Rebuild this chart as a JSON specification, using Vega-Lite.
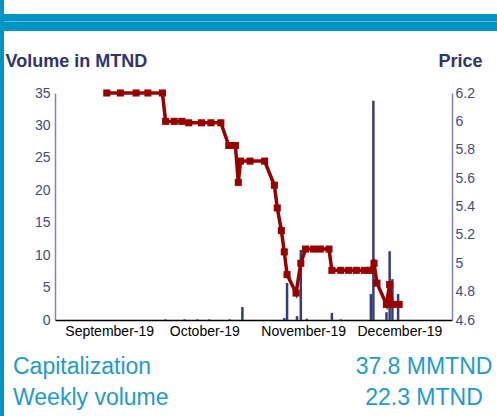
{
  "$schema": "https://vega.github.io/schema/vega-lite/v6.json",
  "padding": 0,
  "spacing": 0,
  "bounds": "flush",
  "config": {"view": {"stroke": null}, "font": "Liberation Sans"},
  "datasets": {
    "volume": [
      {"date": "2019-10-03T05:00", "volume": 0.1},
      {"date": "2019-10-09T07:00", "volume": 0.1},
      {"date": "2019-10-13T07:00", "volume": 0.1},
      {"date": "2019-10-17T00:00", "volume": 0.1},
      {"date": "2019-10-23T12:00", "volume": 0.1},
      {"date": "2019-10-27T12:00", "volume": 2.0},
      {"date": "2019-11-09T17:00", "volume": 0.3},
      {"date": "2019-11-10T14:00", "volume": 5.7},
      {"date": "2019-11-13T17:00", "volume": 0.6},
      {"date": "2019-11-14T22:00", "volume": 10.8},
      {"date": "2019-11-16T19:00", "volume": 0.2},
      {"date": "2019-11-24T17:00", "volume": 1.1},
      {"date": "2019-11-27T12:00", "volume": 0.1},
      {"date": "2019-12-07T00:00", "volume": 4.0},
      {"date": "2019-12-07T19:00", "volume": 33.8},
      {"date": "2019-12-11T22:00", "volume": 1.2},
      {"date": "2019-12-12T22:00", "volume": 10.6},
      {"date": "2019-12-13T19:00", "volume": 6.3},
      {"date": "2019-12-15T14:00", "volume": 4.0}
    ],
    "price": [
      {"date": "2019-09-14T18:00", "price": 6.2},
      {"date": "2019-09-19T01:00", "price": 6.2},
      {"date": "2019-09-24T00:00", "price": 6.2},
      {"date": "2019-09-27T17:00", "price": 6.2},
      {"date": "2019-10-02T07:00", "price": 6.2},
      {"date": "2019-10-03T07:00", "price": 6.0},
      {"date": "2019-10-06T00:00", "price": 6.0},
      {"date": "2019-10-08T10:00", "price": 6.0},
      {"date": "2019-10-10T14:00", "price": 5.99},
      {"date": "2019-10-14T14:00", "price": 5.99},
      {"date": "2019-10-17T14:00", "price": 5.99},
      {"date": "2019-10-20T17:00", "price": 5.99},
      {"date": "2019-10-23T05:00", "price": 5.83},
      {"date": "2019-10-25T07:00", "price": 5.83},
      {"date": "2019-10-26T05:00", "price": 5.57},
      {"date": "2019-10-26T22:00", "price": 5.72},
      {"date": "2019-10-29T22:00", "price": 5.72},
      {"date": "2019-11-03T12:00", "price": 5.72},
      {"date": "2019-11-06T14:00", "price": 5.55},
      {"date": "2019-11-07T12:00", "price": 5.39},
      {"date": "2019-11-08T19:00", "price": 5.23},
      {"date": "2019-11-09T17:00", "price": 5.08},
      {"date": "2019-11-10T14:00", "price": 4.92},
      {"date": "2019-11-13T10:00", "price": 4.79},
      {"date": "2019-11-14T22:00", "price": 5.0},
      {"date": "2019-11-16T10:00", "price": 5.1},
      {"date": "2019-11-18T22:00", "price": 5.1},
      {"date": "2019-11-21T02:00", "price": 5.1},
      {"date": "2019-11-23T19:00", "price": 5.1},
      {"date": "2019-11-24T17:00", "price": 4.95},
      {"date": "2019-11-27T12:00", "price": 4.95},
      {"date": "2019-11-30T00:00", "price": 4.95},
      {"date": "2019-12-02T10:00", "price": 4.95},
      {"date": "2019-12-04T22:00", "price": 4.95},
      {"date": "2019-12-06T17:00", "price": 4.95},
      {"date": "2019-12-08T00:00", "price": 5.0},
      {"date": "2019-12-08T22:00", "price": 4.86},
      {"date": "2019-12-11T22:00", "price": 4.71},
      {"date": "2019-12-12T22:00", "price": 4.85},
      {"date": "2019-12-13T19:00", "price": 4.71},
      {"date": "2019-12-15T22:00", "price": 4.71}
    ],
    "info": [
      {"row": "Capitalization", "side": "label", "text": "Capitalization"},
      {"row": "Capitalization", "side": "value", "text": "37.8 MMTND"},
      {"row": "Weekly volume", "side": "label", "text": "Weekly volume"},
      {"row": "Weekly volume", "side": "value", "text": "22.3 MTND"}
    ]
  },
  "hconcat": [
    {
      "width": 4, "height": 416,
      "data": {"values": [{}]},
      "mark": {"type": "rect", "color": "#0095C6"}
    },
    {
      "spacing": 0,
      "bounds": "flush",
      "vconcat": [
        {"width": 493, "height": 14, "data": {"values": [{}]}, "mark": {"type": "rect", "opacity": 0}},
        {"width": 493, "height": 7, "data": {"values": [{}]}, "mark": {"type": "rect", "color": "#0094C4"}},
        {"width": 493, "height": 1, "data": {"values": [{}]}, "mark": {"type": "rect", "color": "#62B9DD"}},
        {"width": 493, "height": 9, "data": {"values": [{}]}, "mark": {"type": "rect", "color": "#0094C4"}},
        {"width": 493, "height": 62, "data": {"values": [{}]}, "mark": {"type": "rect", "opacity": 0}},
        {
          "spacing": 0,
          "bounds": "flush",
          "hconcat": [
            {"width": 51, "height": 227, "data": {"values": [{}]}, "mark": {"type": "rect", "opacity": 0}},
            {
              "width": 397,
              "height": 227,
              "layer": [
                {
                  "data": {"name": "volume"},
                  "mark": {"type": "bar", "color": "#333D7A", "size": 2.5},
                  "encoding": {
                    "x": {
                      "field": "date", "type": "temporal",
                      "scale": {"domain": [{"year": 2019, "month": "aug", "date": 31}, {"year": 2019, "month": "dec", "date": 31}]},
                      "axis": {
                        "values": [
                          {"year": 2019, "month": "sep", "date": 15, "hours": 12},
                          {"year": 2019, "month": "oct", "date": 15, "hours": 12},
                          {"year": 2019, "month": "nov", "date": 15, "hours": 16},
                          {"year": 2019, "month": "dec", "date": 16}
                        ],
                        "format": "%B-%y",
                        "title": null,
                        "ticks": false,
                        "grid": false,
                        "domainColor": "#000000",
                        "domainWidth": 1.5,
                        "labelColor": "#000000",
                        "labelFontSize": 14,
                        "labelPadding": 4,
                        "labelOverlap": false
                      }
                    },
                    "y": {
                      "field": "volume", "type": "quantitative",
                      "scale": {"domain": [0, 35]},
                      "axis": {
                        "orient": "left",
                        "values": [0, 5, 10, 15, 20, 25, 30, 35],
                        "ticks": false,
                        "grid": false,
                        "domainColor": "#7E84B4",
                        "domainWidth": 1.5,
                        "labelColor": "#3F4A8A",
                        "labelFontSize": 14,
                        "labelPadding": 5,
                        "labelOverlap": false,
                        "title": "Volume in MTND",
                        "titleAngle": 0,
                        "titleAlign": "left",
                        "titleBaseline": "alphabetic",
                        "titleX": -50,
                        "titleY": -27,
                        "titleFontSize": 18,
                        "titleFontWeight": "bold",
                        "titleColor": "#2E3572"
                      }
                    }
                  }
                },
                {
                  "data": {"name": "price"},
                  "mark": {
                    "type": "line", "color": "#990000", "strokeWidth": 3.5,
                    "point": {"shape": "square", "size": 50, "color": "#990000", "filled": true, "opacity": 1}
                  },
                  "encoding": {
                    "x": {"field": "date", "type": "temporal"},
                    "y": {
                      "field": "price", "type": "quantitative",
                      "scale": {"domain": [4.6, 6.2], "zero": false},
                      "axis": {
                        "orient": "right",
                        "values": [4.6, 4.8, 5, 5.2, 5.4, 5.6, 5.8, 6, 6.2],
                        "format": ".2~f",
                        "ticks": false,
                        "grid": false,
                        "domainColor": "#7E84B4",
                        "domainWidth": 1.5,
                        "labelColor": "#3F4A8A",
                        "labelFontSize": 14,
                        "labelPadding": 3,
                        "labelOverlap": false,
                        "title": "Price",
                        "titleAngle": 0,
                        "titleAlign": "right",
                        "titleBaseline": "alphabetic",
                        "titleX": 30,
                        "titleY": -27,
                        "titleFontSize": 18,
                        "titleFontWeight": "bold",
                        "titleColor": "#2E3572"
                      }
                    }
                  }
                }
              ],
              "resolve": {"scale": {"y": "independent"}}
            }
          ]
        },
        {"width": 493, "height": 281, "data": {"values": [{}]}, "mark": {"type": "rect", "opacity": 0}},
        {
          "spacing": 0,
          "bounds": "flush",
          "hconcat": [
            {"width": 9, "height": 31, "data": {"values": [{}]}, "mark": {"type": "rect", "opacity": 0}},
            {
              "width": 411,
              "height": 31,
              "data": {"name": "info"},
              "encoding": {
                "x": {"field": "side", "type": "nominal", "scale": {"type": "point", "domain": ["label", "value"], "padding": 0}, "axis": null},
                "y": {"field": "row", "type": "nominal", "scale": {"type": "point", "domain": ["Capitalization", "Weekly volume"], "padding": 0}, "axis": null},
                "text": {"field": "text"}
              },
              "layer": [
                {
                  "transform": [{"filter": "datum.side === 'label'"}],
                  "mark": {"type": "text", "align": "left", "baseline": "alphabetic", "fontSize": 23, "color": "#1E9AD8"}
                },
                {
                  "transform": [{"filter": "datum.side === 'value'"}],
                  "mark": {"type": "text", "align": "center", "baseline": "alphabetic", "fontSize": 23, "color": "#1E9AD8"}
                }
              ]
            }
          ]
        }
      ]
    }
  ]
}
